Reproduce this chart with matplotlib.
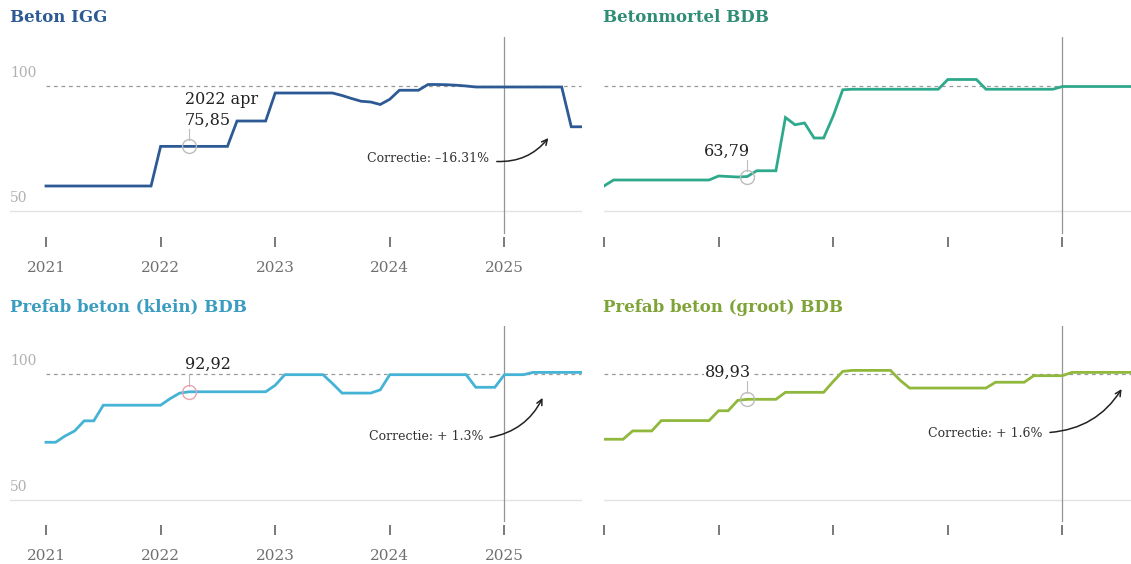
import matplotlib
matplotlib.use("Agg")
import matplotlib.pyplot as plt

# maandelijkse indexreeksen, jan 2021 t/m sep 2025
jaren = ["2021", "2022", "2023", "2024", "2025"]

beton_igg = [60.0, 60.0, 60.0, 60.0, 60.0, 60.0, 60.0, 60.0, 60.0, 60.0, 60.0, 60.0,
             75.85, 75.85, 75.85, 75.85, 75.85, 75.85, 75.85, 75.85, 86.0, 86.0, 86.0, 86.0,
             97.2, 97.2, 97.2, 97.2, 97.2, 97.2, 97.2, 96.2, 95.0, 93.9, 93.6, 92.6,
             94.7, 98.3, 98.3, 98.3, 100.6, 100.6, 100.5, 100.3, 100.0, 99.6, 99.6, 99.6,
             99.6, 99.6, 99.6, 99.6, 99.6, 99.6, 99.6, 83.69, 83.69]

betonmortel = [60.0, 62.4, 62.4, 62.4, 62.4, 62.4, 62.4, 62.4, 62.4, 62.4, 62.4, 62.4,
               64.0, 63.8, 63.6, 63.79, 66.1, 66.1, 66.1, 87.4, 84.5, 85.2, 79.2, 79.2,
               88.0, 98.5, 98.7, 98.7, 98.7, 98.7, 98.7, 98.7, 98.7, 98.7, 98.7, 98.7,
               102.6, 102.6, 102.6, 102.6, 98.7, 98.7, 98.7, 98.7, 98.7, 98.7, 98.7, 98.7,
               99.8, 99.8, 99.8, 99.8, 99.8, 99.8, 99.8, 99.8, 99.8]

prefab_klein = [72.9, 72.9, 75.4, 77.4, 81.4, 81.4, 87.6, 87.6, 87.6, 87.6, 87.6, 87.6,
                87.6, 90.2, 92.4, 92.92, 92.92, 92.92, 92.92, 92.92, 92.92, 92.92, 92.92, 92.92,
                95.5, 99.7, 99.7, 99.7, 99.7, 99.7, 96.2, 92.4, 92.4, 92.4, 92.4, 93.7,
                99.7, 99.7, 99.7, 99.7, 99.7, 99.7, 99.7, 99.7, 99.7, 94.7, 94.7, 94.7,
                99.7, 99.7, 99.7, 100.6, 100.6, 100.6, 100.6, 100.6, 100.6]

prefab_groot = [74.1, 74.1, 74.1, 77.4, 77.4, 77.4, 81.5, 81.5, 81.5, 81.5, 81.5, 81.5,
                85.4, 85.4, 89.5, 89.93, 89.93, 89.93, 89.93, 92.7, 92.7, 92.7, 92.7, 92.7,
                97.0, 101.0, 101.4, 101.4, 101.4, 101.4, 101.4, 97.5, 94.4, 94.4, 94.4, 94.4,
                94.4, 94.4, 94.4, 94.4, 94.4, 96.7, 96.7, 96.7, 96.7, 99.3, 99.3, 99.3,
                99.3, 100.6, 100.6, 100.6, 100.6, 100.6, 100.6, 100.6, 100.6]

titels = ["Beton IGG", "Betonmortel BDB", "Prefab beton (klein) BDB", "Prefab beton (groot) BDB"]
lijnkleuren = ["#2d5a94", "#2fa98c", "#45b3d6", "#8fb83c"]
titelkleuren = ["#2d5a94", "#2e8d74", "#3a9cc0", "#7ea336"]
labels = ["2022 apr\n75,85", "63,79", "92,92", "89,93"]
correcties = ["Correctie: \u201316.31%", None, "Correctie: + 1.3%", "Correctie: + 1.6%"]

plt.rcParams["font.family"] = ["DejaVu Serif"]

fig = plt.figure(figsize=(11.31, 5.64), dpi=100)

W, H = 1131, 564
posities = [
    (10, 237, 572, 200, -3.77),
    (604, 237, 536, 200, 0.0),
    (10, 525, 572, 199, -3.77),
    (604, 525, 536, 199, 0.0),
]
ylims = [(39.6, 119.6), (39.6, 119.6), (40.1, 119.0), (40.1, 119.0)]
reeksen = [beton_igg, betonmortel, prefab_klein, prefab_groot]

for i, (x0, yb, w, h, xmin) in enumerate(posities):
    ax = fig.add_axes([x0 / W, 1 - yb / H, w / W, h / H])
    reeks = reeksen[i]
    maanden = list(range(len(reeks)))
    links = i % 2 == 0

    ax.set_xlim(xmin, xmin + w / 9.55)
    ax.set_ylim(*ylims[i])
    for s in ax.spines.values():
        s.set_visible(False)

    ax.axhline(50, color="#e3e3e3", lw=1, zorder=1)
    ax.plot([0, len(reeks) - 1], [100, 100], color="#999999", lw=0.9,
            dashes=(3, 3), zorder=1)
    ax.axvline(48, ymin=0.02, ymax=1, color="#959595", lw=0.9, zorder=1)

    ax.plot(maanden, reeks, color=lijnkleuren[i], lw=2.0, zorder=3,
            solid_joinstyle="miter")

    ax.set_yticks([])
    ax.set_xticks([0, 12, 24, 36, 48])
    if links:
        ax.set_xticklabels(jaren, fontsize=11, color="#707070")
        for v in (100, 50):
            ax.annotate(str(v), xy=(0, v), xycoords=("axes fraction", "data"),
                        xytext=(0, 4), textcoords="offset points",
                        ha="left", va="bottom", fontsize=10, color="#b0b0b0")
    else:
        ax.set_xticklabels([])
    ax.tick_params(axis="x", length=7, width=1.1, color="#555555", pad=10)

    # titel
    ty = 17 if i < 2 else 307
    fig.text(x0 / W if links else 603 / W, 1 - ty / H, titels[i],
             fontsize=12, fontweight="bold", color=titelkleuren[i],
             ha="left", va="center")

    # markering april 2022
    waarde = reeks[15]
    cirkel = "#e8a4ad" if i == 2 else "#bdbdbd"
    ax.plot(15, waarde, marker="o", ms=10, mfc="none", mec=cirkel, mew=1.0, zorder=4)
    if i == 0:
        ax.plot([15, 15], [waarde + 2.4, 83.0], color="#bdbdbd", lw=0.8)
        ax.text(14.55, 83.0, labels[i], ha="left", va="bottom", fontsize=11.5,
                color="#222222", linespacing=1.3)
    elif i == 1:
        ax.plot([15, 15], [waarde + 2.4, 70.5], color="#bdbdbd", lw=0.8)
        ax.text(15.3, 70.5, labels[i], ha="right", va="bottom", fontsize=11.5,
                color="#222222")
    elif i == 2:
        ax.plot([15, 15], [waarde + 2.4, 100.0], color="#bdbdbd", lw=0.8)
        ax.text(14.55, 100.3, labels[i], ha="left", va="bottom", fontsize=11.5,
                color="#222222")
    else:
        ax.plot([15, 15], [waarde + 2.4, 97.0], color="#bdbdbd", lw=0.8)
        ax.text(15.4, 97.3, labels[i], ha="right", va="bottom", fontsize=11.5,
                color="#222222", bbox=dict(facecolor="white", edgecolor="none", pad=0.5))

    # correctie-pijl
    if correcties[i]:
        if i == 0:
            tekst_xy, pijl_van, pijl_naar = (46.4, 71.2), (47.2, 69.8), (52.6, 79.2)
        elif i == 2:
            tekst_xy, pijl_van, pijl_naar = (45.8, 75.0), (46.5, 74.8), (52.0, 90.5)
        else:
            tekst_xy, pijl_van, pijl_naar = (45.9, 76.2), (46.7, 76.8), (54.2, 94.0)
        ax.text(*tekst_xy, correcties[i], ha="right", va="center", fontsize=9,
                color="#333333", zorder=5)
        ax.annotate("", xy=pijl_naar, xytext=pijl_van,
                    arrowprops=dict(arrowstyle="->", color="#222222", lw=1.1,
                                    connectionstyle="arc3,rad=0.25",
                                    shrinkA=0, shrinkB=0))

fig.savefig("out.png", dpi=100)
